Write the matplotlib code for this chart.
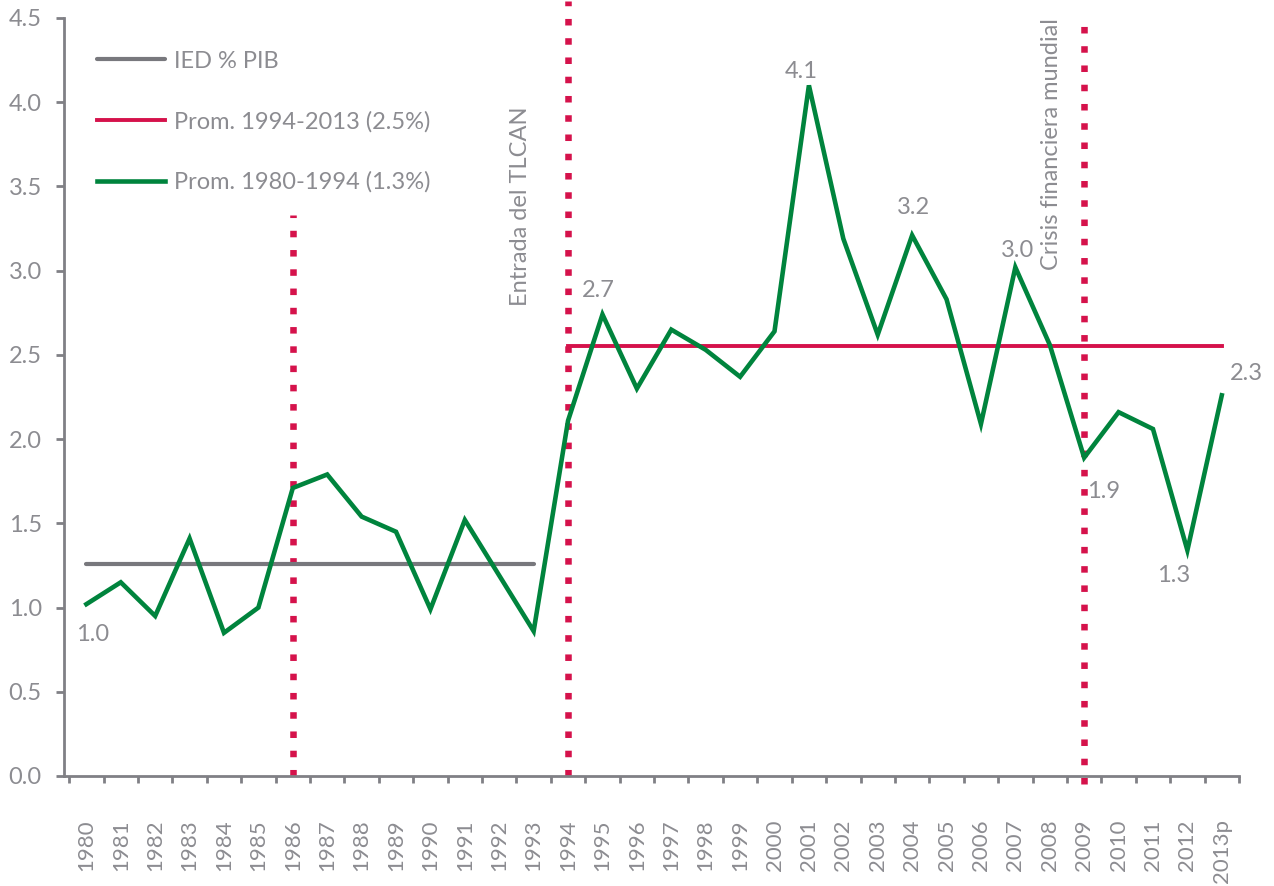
#!/usr/bin/env python3
"""IED como % del PIB, 1980-2013p, con promedios por periodo."""

import matplotlib
matplotlib.use("Agg")
import matplotlib.pyplot as plt
import numpy as np

plt.rcParams["font.family"] = ["Lato", "DejaVu Sans"]

# --- data -------------------------------------------------------------
years = ["1980", "1981", "1982", "1983", "1984", "1985", "1986", "1987",
         "1988", "1989", "1990", "1991", "1992", "1993", "1994", "1995",
         "1996", "1997", "1998", "1999", "2000", "2001", "2002", "2003",
         "2004", "2005", "2006", "2007", "2008", "2009", "2010", "2011",
         "2012", "2013p"]
ied_pib = [1.02, 1.15, 0.95, 1.41, 0.85, 1.00, 1.71, 1.79, 1.54, 1.45,
           0.99, 1.52, 1.19, 0.86, 2.11, 2.74, 2.30, 2.65, 2.53, 2.37,
           2.64, 4.10, 3.19, 2.62, 3.21, 2.83, 2.09, 3.02, 2.56, 1.89,
           2.16, 2.06, 1.34, 2.26]

avg_1980_1993 = 1.26     # gray line, years 1980-1993
avg_1994_2013 = 2.55     # red line, years 1994-2013p

events = ["1986", "1994", "2009"]
event_tops = [3.33, 4.6, 4.5]
event_bottoms = [0.0, 0.0, -0.05]

# value labels: (year, text, dx px, dy px)
point_labels = [("1980", "1.0", 6, -30), ("1995", "2.7", -4, 24),
                ("2001", "4.1", -8, 14), ("2004", "3.2", 1, 28),
                ("2007", "3.0", 2, 17), ("2009", "1.9", 19, -34),
                ("2012", "1.3", -14, -25), ("2013p", "2.3", 25, 22)]

legend_labels = ["IED % PIB", "Prom. 1994-2013 (2.5%)", "Prom. 1980-1994 (1.3%)"]

# --- style ------------------------------------------------------------
GREEN = "#00843D"
RED = "#D5124B"
GRAY_LINE = "#78787D"
AXIS_GRAY = "#808085"
TEXT_GRAY = "#8C8C91"
FS = 17

x = np.arange(len(years))
idx = {y: i for i, y in enumerate(years)}
i94 = idx["1994"]

fig = plt.figure(figsize=(12.74, 8.86), dpi=100)
ax = fig.add_axes([64 / 1274, 110 / 886, 1175 / 1274, 758 / 886])

# average lines
h_gray, = ax.plot(x[:i94], [avg_1980_1993] * i94, color=GRAY_LINE, lw=3.0,
                  solid_capstyle="round")
h_red, = ax.plot(x[i94:], [avg_1994_2013] * (len(years) - i94), color=RED,
                 lw=2.8, solid_capstyle="projecting")

# event markers (dotted verticals)
for ev, top, bot in zip(events, event_tops, event_bottoms):
    ax.plot([idx[ev], idx[ev]], [bot, top], color=RED, lw=4.7,
            linestyle=(0, (1, 1.95)), dash_capstyle="butt", clip_on=False,
            zorder=1)

# main series
h_green, = ax.plot(x, ied_pib, color=GREEN, lw=3.3, solid_joinstyle="miter",
                   zorder=3)

for yr, txt, dx, dy in point_labels:
    ax.annotate(txt, xy=(idx[yr], ied_pib[idx[yr]]), xytext=(dx, dy),
                textcoords="offset pixels", ha="center", va="center",
                fontsize=FS, color=TEXT_GRAY, annotation_clip=False)

ax.text(idx["1994"] - 1.37, 3.385, "Entrada del TLCAN", rotation=90,
        ha="center", va="center", fontsize=FS, color=TEXT_GRAY)
ax.text(idx["2009"] - 0.95, 3.75, "Crisis financiera mundial", rotation=90,
        ha="center", va="center", fontsize=FS, color=TEXT_GRAY)

leg = ax.legend([h_gray, h_red, h_green], legend_labels, loc="upper left",
                bbox_to_anchor=(0.028, 0.957), frameon=False, fontsize=FS,
                handlelength=2.9, handletextpad=0.35, labelspacing=1.66,
                borderpad=0, borderaxespad=0)
for t in leg.get_texts():
    t.set_color(TEXT_GRAY)

# axes
ax.set_xlim(-0.65, 33.46)
ax.set_ylim(0, 4.5)
ax.set_yticks(np.arange(0, 4.51, 0.5))
ax.set_yticklabels([f"{v:.1f}" for v in np.arange(0, 4.51, 0.5)])
ax.set_xticks(x)
ax.set_xticklabels(years, rotation=90)
ax.set_xticks(np.arange(-0.5, len(years), 1.0), minor=True)

for side in ["top", "right"]:
    ax.spines[side].set_visible(False)
for side in ["left", "bottom"]:
    ax.spines[side].set_color(AXIS_GRAY)
    ax.spines[side].set_linewidth(2.0)

ax.tick_params(axis="x", which="major", length=0, pad=31, labelsize=16,
               labelcolor=TEXT_GRAY)
ax.tick_params(axis="x", which="minor", length=5, width=2.0, color=AXIS_GRAY,
               direction="out")
ax.tick_params(axis="y", length=6, width=2.0, color=AXIS_GRAY, pad=10,
               labelsize=FS, labelcolor=TEXT_GRAY)

fig.savefig("out.png", dpi=100)
plt.close(fig)
